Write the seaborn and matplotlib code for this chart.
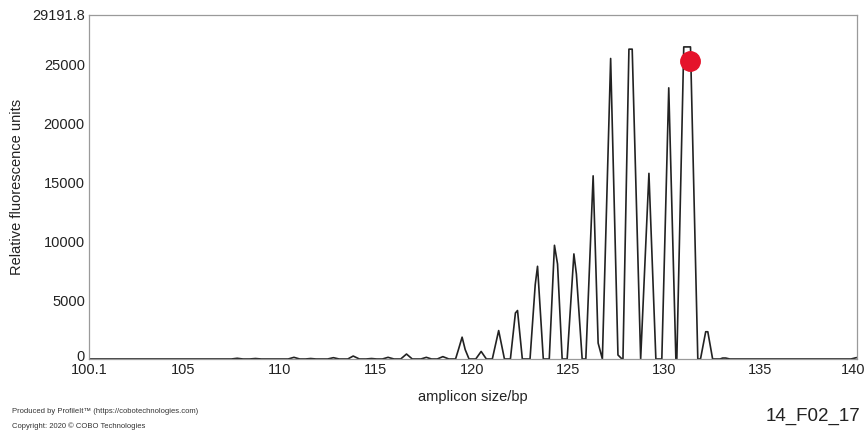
import pandas as pd
import matplotlib
matplotlib.use("Agg")
import matplotlib.pyplot as plt
import matplotlib.transforms as mtransforms
import seaborn as sns

# trace vertices (size in bp, RFU)
trace_bp = [100.1, 107.5, 107.8, 108.1, 108.45, 108.75, 109.05,
            110.45, 110.75, 111.05, 111.35, 111.62, 111.9,
            112.5, 112.8, 113.1, 113.55, 113.83, 114.15,
            114.5, 114.78, 115.05, 115.35, 115.64, 115.95,
            116.3, 116.6, 116.9, 117.35, 117.63, 117.9,
            118.2, 118.49, 118.8,
            119.15, 119.3, 119.49, 119.65, 119.85,
            120.2, 120.48, 120.75,
            121.06, 121.39, 121.69,
            122.0, 122.26, 122.37, 122.62,
            123.02, 123.29, 123.41, 123.71,
            124.02, 124.29, 124.45, 124.69,
            124.95, 125.30, 125.43, 125.73,
            125.92, 126.30, 126.56, 126.78,
            127.21, 127.59, 127.80,
            127.85, 128.16, 128.33, 128.77,
            129.20, 129.56,
            129.87, 130.23, 130.60,
            130.65, 131.01, 131.36, 131.74,
            131.88, 132.15, 132.26, 132.51,
            132.9, 133.03, 133.19, 133.4,
            139.7, 140.0]
trace_rfu = [0, 0, 60, 0, 0, 40, 0,
             0, 140, 0, 0, 40, 0,
             0, 110, 0, 0, 250, 0,
             0, 40, 0, 0, 140, 0,
             0, 420, 0, 0, 140, 0,
             0, 200, 0,
             0, 800, 1850, 800, 0,
             0, 640, 0,
             0, 2410, 0,
             0, 3900, 4110, 0,
             0, 6300, 7860, 0,
             0, 9640, 8050, 0,
             0, 8910, 7200, 0,
             0, 15530, 1350, 0,
             25480, 340, 0,
             0, 26270, 26270, 0,
             15740, 0,
             0, 22990, 0,
             0, 26460, 26460, 0,
             0, 2310, 2310, 0,
             0, 80, 80, 0,
             0, 120]

# highlighted peak marker
marker_bp = [131.31]
marker_rfu = [25250]

x_ticks = [100.1, 105, 110, 115, 120, 125, 130, 135, 140]
x_labels = ["100.1", "105", "110", "115", "120", "125", "130", "135", "140"]
y_ticks = [0, 5000, 10000, 15000, 20000, 25000, 29191.8]
y_labels = ["0", "5000", "10000", "15000", "20000", "25000", "29191.8"]

sns.set_style("white")
plt.rcParams['font.family'] = ['Liberation Sans', 'DejaVu Sans']

df = pd.DataFrame({'bp': trace_bp, 'rfu': trace_rfu})

fig = plt.figure(figsize=(8.66, 4.32), dpi=100)
ax = fig.add_axes([0.1028, 0.169, 0.8865, 0.797])

sns.lineplot(data=df, x='bp', y='rfu', sort=False, estimator=None,
             color='#222222', linewidth=1.2, ax=ax)
ax.plot(marker_bp, marker_rfu, 'o', color='#e5132b', markersize=14, zorder=5)

ax.set_xlim(100.1, 140)
ax.set_ylim(0, 29191.8)
ax.set_xticks(x_ticks)
ax.set_xticklabels(x_labels)
ax.set_yticks(y_ticks)
ax.set_yticklabels(y_labels)
ax.tick_params(axis='both', labelsize=10.5, labelcolor='#222222', length=0, pad=3)
for s in ax.spines.values():
    s.set_color('#9a9a9a')
    s.set_linewidth(0.9)

# keep the last x label inside the canvas, lift the "0" off the 100.1 label
last = ax.get_xticklabels()[-1]
last.set_transform(last.get_transform() +
                   mtransforms.ScaledTranslation(-4 / 100, 0, fig.dpi_scale_trans))
zero = ax.get_yticklabels()[0]
zero.set_transform(zero.get_transform() +
                   mtransforms.ScaledTranslation(0, 3 / 100, fig.dpi_scale_trans))

ax.set_xlabel('amplicon size/bp', fontsize=10.5, color='#222222', labelpad=9)
ax.set_ylabel('Relative fluorescence units', fontsize=10.5, color='#222222', labelpad=6)

fig.text(0.014, 0.047, 'Produced by ProfileIt\u2122 (https://cobotechnologies.com)',
         fontsize=5.5, color='#333333', va='center')
fig.text(0.014, 0.014, 'Copyright: 2020 \u00a9 COBO Technologies',
         fontsize=5.5, color='#333333', va='center')
fig.text(0.993, 0.035, '14_F02_17', fontsize=13.5, color='#222222',
         ha='right', va='center')

fig.savefig('out.png', dpi=100)
